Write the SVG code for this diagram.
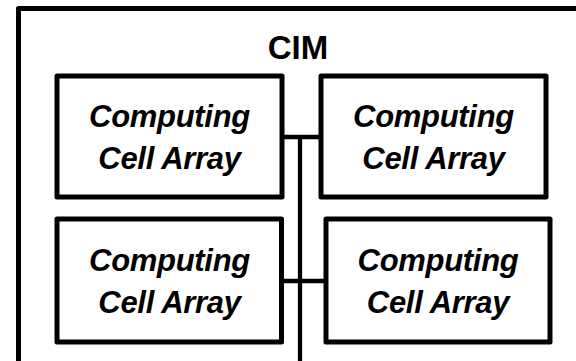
<svg xmlns="http://www.w3.org/2000/svg" width="576" height="361" viewBox="0 0 576 361">
  <style>
    .frame { fill: #ffffff; stroke: #000000; stroke-width: 5; stroke-linejoin: round; }
    .box { fill: #ffffff; stroke: #000000; stroke-width: 5; stroke-linejoin: round; }
    .wire { fill: none; stroke: #000000; stroke-width: 4.3; }
    .title { font-family: "Liberation Sans", Arial, sans-serif; font-weight: bold; font-size: 33px; fill: #000000; text-anchor: middle; }
    .label { font-family: "Liberation Sans", Arial, sans-serif; font-weight: bold; font-style: italic; font-size: 31px; letter-spacing: -0.3px; fill: #000000; text-anchor: middle; }
  </style>
  <rect x="0" y="0" width="576" height="361" fill="#ffffff"/>
  <g id="cim">
    <rect class="frame" x="18.5" y="8.5" width="600" height="400"/>
    <text class="title" x="298" y="59">CIM</text>
  </g>
  <g id="connectors">
    <line class="wire" x1="300" y1="137" x2="300" y2="365"/>
    <line class="wire" x1="282" y1="137" x2="321" y2="137"/>
    <line class="wire" x1="281.5" y1="281" x2="326" y2="281"/>
  </g>
  <g id="array-top-left">
    <rect class="box" x="57" y="76" width="225" height="121"/>
    <text class="label" x="169.5" y="127">Computing</text>
    <text class="label" x="169.5" y="169">Cell Array</text>
  </g>
  <g id="array-top-right">
    <rect class="box" x="321" y="76" width="225" height="121"/>
    <text class="label" x="433.5" y="127">Computing</text>
    <text class="label" x="433.5" y="169">Cell Array</text>
  </g>
  <g id="array-bottom-left">
    <rect class="box" x="57" y="219" width="224.5" height="123"/>
    <text class="label" x="169.5" y="271">Computing</text>
    <text class="label" x="169.5" y="313">Cell Array</text>
  </g>
  <g id="array-bottom-right">
    <rect class="box" x="326" y="219" width="224" height="123"/>
    <text class="label" x="438" y="271">Computing</text>
    <text class="label" x="438" y="313">Cell Array</text>
  </g>
</svg>
